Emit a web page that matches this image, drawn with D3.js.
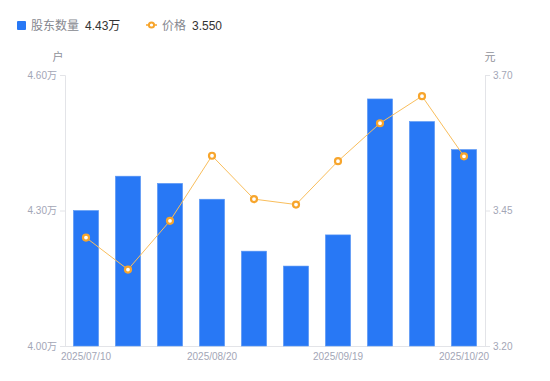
<!DOCTYPE html>
<html>
<head>
<meta charset="utf-8">
<script src="https://cdn.jsdelivr.net/npm/d3@7"></script>
<style>
  html, body { margin: 0; padding: 0; background: #fff; }
  svg text { font-family: "Liberation Sans", Arial, "Noto Sans CJK SC", sans-serif; }
</style>
</head>
<body>
<div id="chart"></div>
<script>
// data
const dates = ['2025/07/10', '2025/07/18', '2025/07/31', '2025/08/20', '2025/08/29',
               '2025/09/10', '2025/09/19', '2025/09/30', '2025/10/10', '2025/10/20'];
const holders = [4.300, 4.376, 4.360, 4.325, 4.210, 4.177, 4.246, 4.547, 4.497, 4.435]; // 万户
const prices = [3.400, 3.341, 3.431, 3.551, 3.471, 3.461, 3.541, 3.611, 3.661, 3.550];
const leftTicks = [4.00, 4.30, 4.60];
const rightTicks = [3.20, 3.45, 3.70];
const shownDates = ['2025/07/10', '2025/08/20', '2025/09/19', '2025/10/20'];

const width = 550, height = 381;
const margin = { top: 75, right: 65, bottom: 35, left: 65 };

const barColor = '#2878f5';
const lineColor = '#f7a52c';
const tickColor = '#a3a6b6';
const axisColor = '#e3e4e8';

const svg = d3.select('#chart').append('svg')
  .attr('width', width)
  .attr('height', height);

const x = d3.scaleBand()
  .domain(dates)
  .range([margin.left, width - margin.right])
  .paddingInner(0.4)
  .paddingOuter(0.2);

const yLeft = d3.scaleLinear()
  .domain([4.0, 4.6])
  .range([height - margin.bottom, margin.top]);

const yRight = d3.scaleLinear()
  .domain([3.2, 3.7])
  .range([height - margin.bottom, margin.top]);

// axes
const leftAxis = svg.append('g')
  .attr('transform', `translate(${margin.left},0)`)
  .call(d3.axisLeft(yLeft).tickValues(leftTicks).tickSize(5).tickPadding(3)
    .tickFormat(d => d.toFixed(2) + '万'));

const rightAxis = svg.append('g')
  .attr('transform', `translate(${width - margin.right},0)`)
  .call(d3.axisRight(yRight).tickValues(rightTicks).tickSize(5).tickPadding(3)
    .tickFormat(d => d.toFixed(2)));

const bottomAxis = svg.append('g')
  .attr('transform', `translate(0,${height - margin.bottom})`)
  .call(d3.axisBottom(x).tickValues(shownDates).tickSize(0).tickPadding(7));

[leftAxis, rightAxis, bottomAxis].forEach(g => {
  g.select('.domain').attr('stroke', axisColor);
  g.selectAll('.tick line').attr('stroke', axisColor);
  g.selectAll('.tick text').attr('fill', tickColor).attr('font-size', 10);
});
bottomAxis.select('.domain').attr('d', `M${margin.left},0.5H${width - margin.right}`);

// axis names
svg.append('text')
  .attr('x', margin.left - 7).attr('y', 61)
  .attr('text-anchor', 'middle')
  .attr('font-size', 11).attr('fill', '#8f9199')
  .text('户');
svg.append('text')
  .attr('x', width - margin.right + 5).attr('y', 61)
  .attr('text-anchor', 'middle')
  .attr('font-size', 11).attr('fill', '#8f9199')
  .text('元');

// bars
svg.append('g').selectAll('rect')
  .data(holders)
  .join('rect')
  .attr('x', (d, i) => x(dates[i]))
  .attr('y', d => yLeft(d))
  .attr('width', x.bandwidth())
  .attr('height', d => yLeft(4.0) - yLeft(d))
  .attr('fill', barColor)
  .attr('stroke', '#5d99f4')
  .attr('stroke-width', 0.6);

// price line
const cx = (d, i) => x(dates[i]) + x.bandwidth() / 2;
svg.append('path')
  .datum(prices)
  .attr('fill', 'none')
  .attr('stroke', '#f9be5c')
  .attr('stroke-width', 1)
  .attr('d', d3.line().x(cx).y(d => yRight(d)));

svg.append('g').selectAll('circle')
  .data(prices)
  .join('circle')
  .attr('cx', cx)
  .attr('cy', d => yRight(d))
  .attr('r', 3)
  .attr('fill', '#fff')
  .attr('stroke', lineColor)
  .attr('stroke-width', 2.2);

// legend
const legend = svg.append('g').attr('font-size', 12);
legend.append('rect')
  .attr('x', 17).attr('y', 21).attr('width', 9).attr('height', 9)
  .attr('rx', 1).attr('fill', barColor);
legend.append('text').attr('x', 31).attr('y', 29.5).attr('fill', '#86888f').text('股东数量');
legend.append('text').attr('x', 85).attr('y', 29.5).attr('fill', '#333').text(holders[holders.length - 1].toFixed(2) + '万');

legend.append('line')
  .attr('x1', 146).attr('x2', 157).attr('y1', 25).attr('y2', 25)
  .attr('stroke', lineColor).attr('stroke-width', 1.5);
legend.append('circle')
  .attr('cx', 151.5).attr('cy', 25).attr('r', 2.6)
  .attr('fill', '#fff').attr('stroke', lineColor).attr('stroke-width', 2);
legend.append('text').attr('x', 162).attr('y', 29.5).attr('fill', '#86888f').text('价格');
legend.append('text').attr('x', 192).attr('y', 29.5).attr('fill', '#333').text(prices[prices.length - 1].toFixed(3));
</script>
</body>
</html>
